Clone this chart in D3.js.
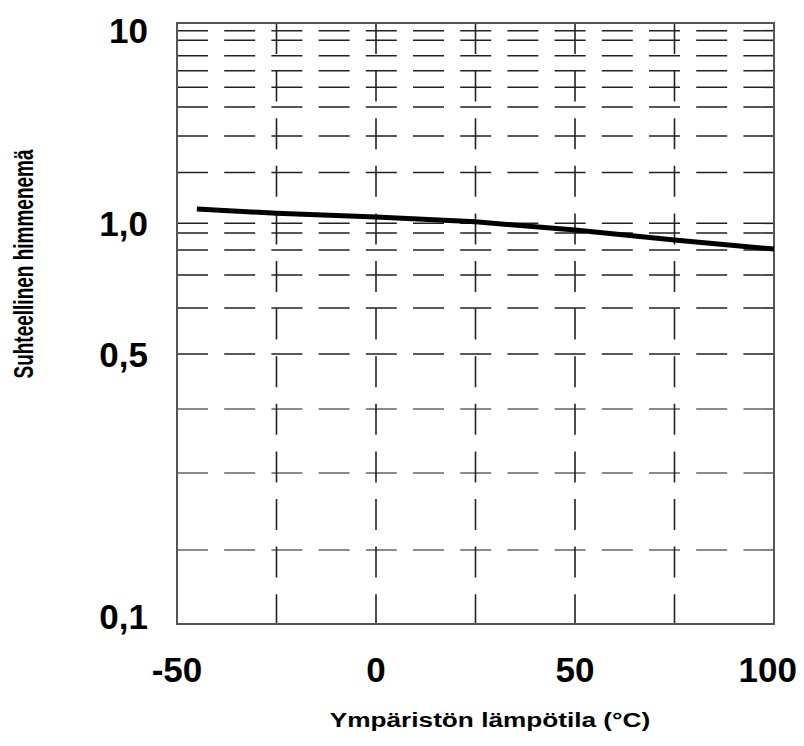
<!DOCTYPE html>
<html>
<head>
<meta charset="utf-8">
<script src="https://cdn.jsdelivr.net/npm/d3@7"></script>
<style>
	html, body { margin: 0; padding: 0; background: #fff; }
	svg { display: block; font-family: "Liberation Sans", Arial, sans-serif; }
</style>
</head>
<body>
<svg id="chart" width="804" height="746"></svg>
<script>
// data
const temps = [-45, -25, 0, 25, 50, 75, 100];
const dimming = [1.215, 1.146, 1.09, 1.02, 0.93, 0.857, 0.805];

const xTicks = [-50, 0, 50, 100];
const xGrid = [-25, 0, 25, 50, 75];
const yGrid = [0.1, 0.2, 0.3, 0.4, 0.5, 0.6, 0.7, 0.8, 0.9, 1, 2, 3, 4, 5, 6, 7, 8, 9, 10];
const yTickValues = [10, 1, 0.5, 0.1];
const yTickLabels = ["10", "1,0", "0,5", "0,1"];

const xTitle = "Ympäristön lämpötila (°C)";
const yTitle = "Suhteellinen himmenemä";

// layout
const plot = { left: 177, right: 774, top: 23, bottom: 624 };
// the printed log grid is not evenly spaced, so the scale is calibrated on its lines
const yStops = [624, 550, 473, 409, 354, 308, 275, 250, 233, 223.3, 172.5, 136, 107, 87.3, 70.7, 55.7, 40.3, 30.7, 23];

const svg = d3.select("#chart");

const x = d3.scaleLinear().domain([-50, 100]).range([plot.left, plot.right]);
const y = d3.scaleLog().domain(yGrid).range(yStops);

// horizontal grid
svg.append("g")
	.selectAll("line")
	.data(yGrid.slice(1, -1))
	.enter()
	.append("line")
	.attr("x1", plot.left)
	.attr("x2", plot.right)
	.attr("y1", (d) => y(d))
	.attr("y2", (d) => y(d))
	.attr("stroke", (d) => (d < 0.5 ? "#666" : "#222"))
	.attr("stroke-width", 1.6)
	.attr("stroke-dasharray", "31,16.2");

// vertical grid
svg.append("g")
	.selectAll("line")
	.data(xGrid)
	.enter()
	.append("line")
	.attr("x1", (d) => x(d))
	.attr("x2", (d) => x(d))
	.attr("y1", plot.top)
	.attr("y2", plot.bottom)
	.attr("stroke", "#222")
	.attr("stroke-width", 1.6)
	.attr("stroke-dasharray", "31,16.6");

// frame
svg.append("rect")
	.attr("x", plot.left)
	.attr("y", plot.top)
	.attr("width", plot.right - plot.left)
	.attr("height", plot.bottom - plot.top)
	.attr("fill", "none")
	.attr("stroke", "#555")
	.attr("stroke-width", 2);

// curve
const line = d3.line()
	.x((d, i) => x(temps[i]))
	.y((d) => y(d));

svg.append("path")
	.datum(dimming)
	.attr("d", line)
	.attr("fill", "none")
	.attr("stroke", "#000")
	.attr("stroke-width", 5);

// y tick labels, kept within the frame's height
svg.append("g")
	.selectAll("text")
	.data(yTickValues)
	.enter()
	.append("text")
	.attr("x", 148)
	.attr("y", (d) => Math.min(Math.max(y(d) + 13, plot.top + 20), plot.bottom + 5))
	.attr("text-anchor", "end")
	.attr("font-size", 35)
	.attr("font-weight", "bold")
	.text((d, i) => yTickLabels[i]);

// x tick labels
svg.append("g")
	.selectAll("text")
	.data(xTicks)
	.enter()
	.append("text")
	.attr("x", (d) => x(d))
	.attr("y", 682)
	.attr("text-anchor", "middle")
	.attr("font-size", 35)
	.attr("font-weight", "bold")
	.text((d) => d)
	.each(function () {
		// keep the end labels inside the picture, like the original
		const w = this.getComputedTextLength();
		const cx = +d3.select(this).attr("x");
		const clamped = Math.min(Math.max(cx, 145 + w / 2), 797 - w / 2);
		d3.select(this).attr("x", clamped);
	});

// axis titles (the original lettering is stretched sideways)
svg.append("text")
	.attr("transform", "translate(490,727) scale(1.31,1)")
	.attr("text-anchor", "middle")
	.attr("font-size", 20)
	.attr("font-weight", "bold")
	.text(xTitle);

svg.append("text")
	.attr("transform", "translate(33,264) scale(1.45,1) rotate(-90)")
	.attr("text-anchor", "middle")
	.attr("font-size", 19)
	.attr("font-weight", "bold")
	.text(yTitle);
</script>
</body>
</html>
